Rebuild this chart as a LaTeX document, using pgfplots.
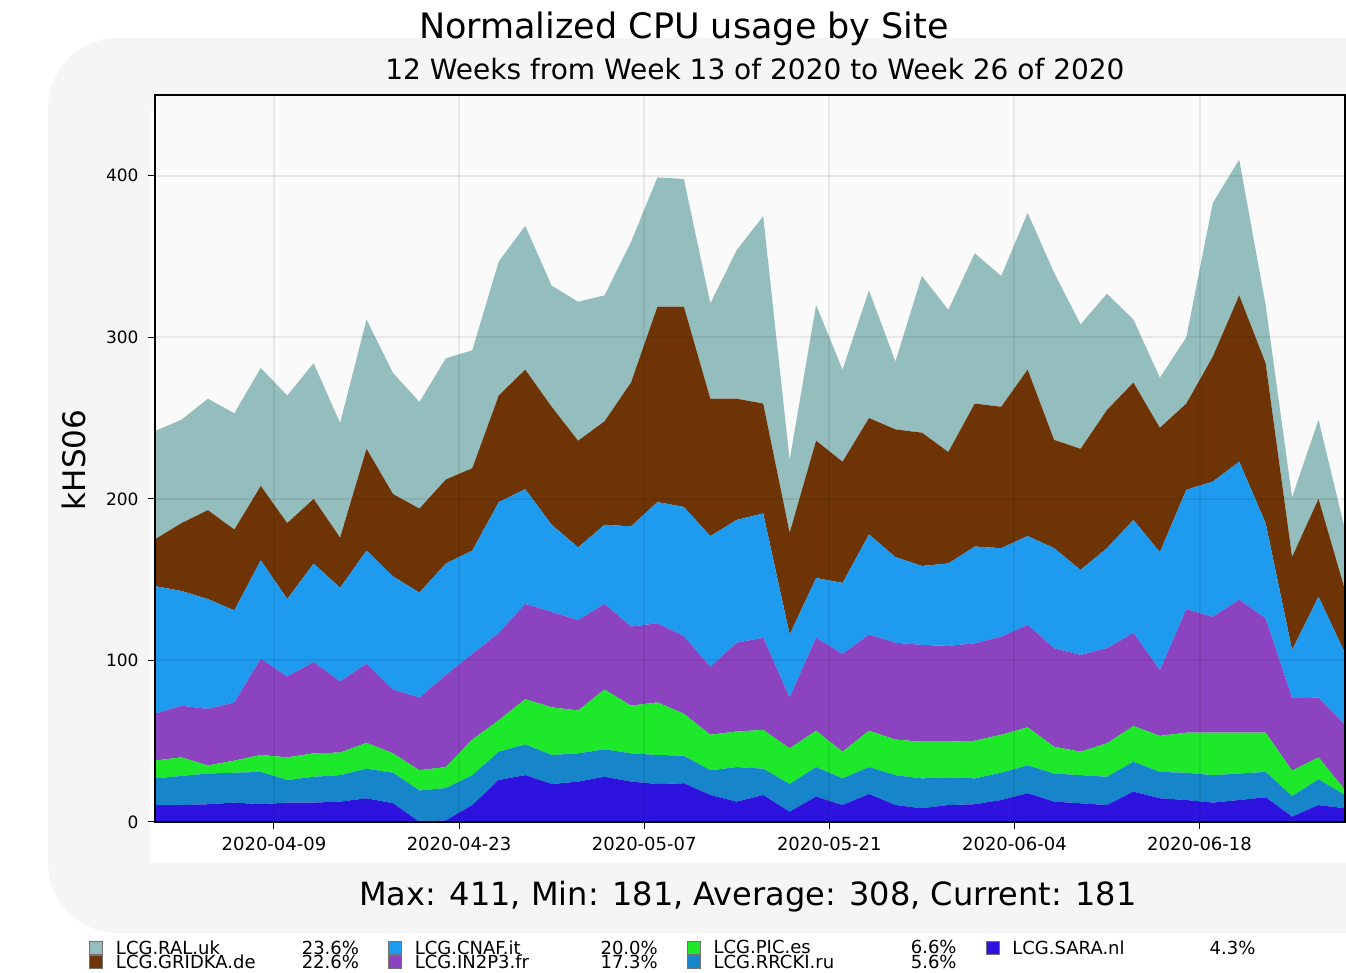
\documentclass[border=0pt]{standalone}
\usepackage{pgfplots}
\pgfplotsset{compat=1.18}
\usepackage{pgfplotstable}
\usepackage{fontspec}
\setmainfont{DejaVu Sans}
\definecolor{ralc}{HTML}{94BDBD}
\definecolor{gridkac}{HTML}{6E3406}
\definecolor{cnafc}{HTML}{1E9BEF}
\definecolor{in2p3c}{HTML}{8C43BF}
\definecolor{picc}{HTML}{1EE82A}
\definecolor{rrckic}{HTML}{1685C9}
\definecolor{sarac}{HTML}{2E13DE}

\pgfplotstableread{
x sara rrcki pic in2p3 cnaf gridka ral
0 10.5 16.5 11 29 79 29 67
2 10.5 18 11.5 32 71 42 64
4 11 19 5 35 68 55 69
6 12 18.5 7.5 36 57 50 72
8 11 20 10.5 59.5 61 46 73
10 12 14 14 50 48 47 79
12 12 16 14.5 56.5 61 40 84
14 12.6 16.4 14 44 58 31 71
16 14.7 18.3 16 49 70 63 80
18 11.6 18.9 12 39.5 70 51 75
20 0 19.5 12.5 45 65 52 66
22 1 20 13 57 69 52 75
24 10.5 18.5 22 53 64 51 73
26 26 17.5 19.5 54 81 66 83
28 29 19 28 59 71 74 89
30 23.5 18 29.5 59 54 73 75
32 25 17.5 26.5 56 45 66 86
34 28 17 37 53 49 64 78
36 25 17.5 29.5 49 62 89 87
38 23.5 18 32.5 49 75 121 80
40 24 17 26 48 80 124 79
42 16.7 15.3 22 42 81 85 59
44 12.6 21.4 22 55 76 75 92
46 16.7 16.3 24 57 77 68 116
48 6.4 17.1 22.1 31.4 39 63 45
50 15.7 18.3 22.5 57.5 37 85 84
52 10.5 16.5 16.5 60.5 44 75 57
54 17.3 16.7 22.5 59.5 62 72 79
56 10.5 18.5 22 60 53 79 42
58 8.5 18.5 22.7 59.9 48.9 82.5 97
60 10.5 17.2 22 59.3 51 69 88
62 11 16 23.3 60.3 59.9 88.5 93
64 13.6 16.9 23.5 60.7 54.8 87.5 81
66 17.8 17.2 23.6 63.4 55 103 97
68 12.6 17.4 16.6 61 61.9 67 103.5
70 11.6 17.4 14.5 59.9 52.6 75 77
72 10.5 17.5 20.7 58.9 61.9 85.5 72
74 18.8 18.5 22.1 57.6 70 85 39
76 14.7 16.3 22.3 40.7 73 77 31
78 13.6 16.9 24.8 76.4 73.9 53.4 41
80 12 17 26.3 71.7 83.7 77.3 95
82 13.6 16.4 25.3 82.2 85.5 103 84
84 15.3 15.7 24.3 70.7 59 99 36
86 3.3 12.7 15.8 44.8 29.9 57.5 37
88 10.5 15.9 13.6 37 62.5 60.5 49
90 8.5 8.2 3.1 40.2 44.5 39.2 37.3
}\sitedata

\begin{document}
\begin{tikzpicture}[x=1pt,y=1pt]
\path[use as bounding box] (0,0) rectangle (1346,973);
\fill[black!4, rounded corners=70pt] (48,40) rectangle (1420,935);
\fill[white] (150,110) rectangle (1346,862);
\node[font=\fontsize{35}{35}\selectfont] at (684,944) {Normalized CPU usage by Site};
\node[font=\fontsize{28}{28}\selectfont] at (755,904) {12 Weeks from Week 13 of 2020 to Week 26 of 2020};
\node[font=\fontsize{31}{31}\selectfont, rotate=90] at (74,513) {kHS06};
\node[font=\fontsize{32}{32}\selectfont] at (748,76) {Max: 411, Min: 181, Average: 308, Current: 181};
\begin{axis}[
  at={(155pt,151pt)}, anchor=south west, scale only axis,
  width=1190pt, height=727pt,
  xmin=0, xmax=90, ymin=0, ymax=450,
  stack plots=y,
  axis on top,
  axis background/.style={fill=white!98!black},
  xtick={9,23,37,51,65,79},
  xticklabels={2020-04-09,2020-04-23,2020-05-07,2020-05-21,2020-06-04,2020-06-18},
  ytick={0,100,200,300,400},
  tick align=outside, tick pos=left,
  major tick length=7pt,
  tick style={black, line width=1pt},
  axis line style={black, line width=1.6pt},
  grid=major,
  grid style={black, opacity=0.07, line width=2pt},
  /pgf/number format/assume math mode=true,
  yticklabel style={font=\fontsize{17}{17}\selectfont, xshift=-6pt},
  xticklabel style={font=\fontsize{18}{18}\selectfont, yshift=-5pt},
  legend columns=4,
  legend cell align=left,
  legend image code/.code={\draw[#1, draw=black!55, line width=0.8pt] (0pt,-6.5pt) rectangle (13pt,6.5pt);},
  legend style={at={(-0.058,-0.157)}, anchor=north west, draw=none, fill=none,
    font=\fontsize{18}{15}\selectfont, row sep=-5pt,
    /tikz/every even column/.append style={column sep=27pt}},
]
\addplot[fill=sarac, draw=none, forget plot] table[x=x, y=sara] {\sitedata} \closedcycle;
\addplot[fill=rrckic, draw=none, forget plot] table[x=x, y=rrcki] {\sitedata} \closedcycle;
\addplot[fill=picc, draw=none, forget plot] table[x=x, y=pic] {\sitedata} \closedcycle;
\addplot[fill=in2p3c, draw=none, forget plot] table[x=x, y=in2p3] {\sitedata} \closedcycle;
\addplot[fill=cnafc, draw=none, forget plot] table[x=x, y=cnaf] {\sitedata} \closedcycle;
\addplot[fill=gridkac, draw=none, forget plot] table[x=x, y=gridka] {\sitedata} \closedcycle;
\addplot[fill=ralc, draw=none, forget plot] table[x=x, y=ral] {\sitedata} \closedcycle;
\addlegendimage{fill=ralc}
\addlegendentry{\makebox[254pt]{\hspace*{11pt}LCG.RAL.uk\hfill 23.6\%}}
\addlegendimage{fill=cnafc}
\addlegendentry{\makebox[254pt]{\hspace*{11pt}LCG.CNAF.it\hfill 20.0\%}}
\addlegendimage{fill=picc}
\addlegendentry{\makebox[254pt]{\hspace*{11pt}LCG.PIC.es\hfill 6.6\%}}
\addlegendimage{fill=sarac}
\addlegendentry{\makebox[254pt]{\hspace*{11pt}LCG.SARA.nl\hfill 4.3\%}}
\addlegendimage{fill=gridkac}
\addlegendentry{\makebox[254pt]{\hspace*{11pt}LCG.GRIDKA.de\hfill 22.6\%}}
\addlegendimage{fill=in2p3c}
\addlegendentry{\makebox[254pt]{\hspace*{11pt}LCG.IN2P3.fr\hfill 17.3\%}}
\addlegendimage{fill=rrckic}
\addlegendentry{\makebox[254pt]{\hspace*{11pt}LCG.RRCKI.ru\hfill 5.6\%}}
\end{axis}
\end{tikzpicture}
\end{document}
